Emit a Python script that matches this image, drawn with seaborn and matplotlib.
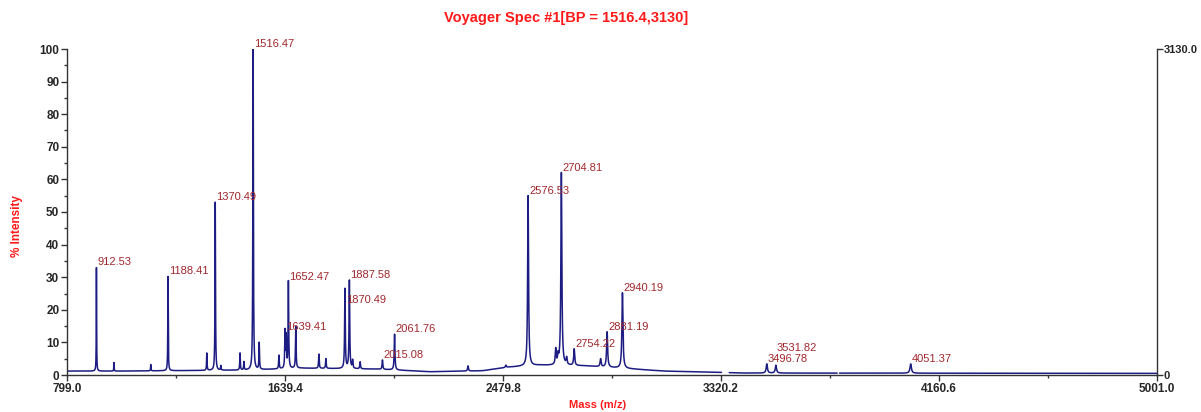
import numpy as np
import pandas as pd
import matplotlib
matplotlib.use("Agg")
import matplotlib.pyplot as plt
import seaborn as sns

# config
sns.set_style("ticks")
plt.rcParams['font.family'] = ['Liberation Sans Narrow', 'Liberation Sans', 'DejaVu Sans']

# labelled peaks : m/z and % intensity
peak_masses = [912.53, 1188.41, 1370.49, 1516.47, 1639.41, 1652.47, 1870.49, 1887.58,
               2015.08, 2061.76, 2576.53, 2704.81, 2754.22, 2881.19, 2940.19,
               3496.78, 3531.82, 4051.37]
peak_heights = [33.0, 30.5, 53.0, 100.0, 13.3, 28.6, 26.4, 29.0,
                4.6, 12.5, 55.0, 62.0, 7.9, 13.2, 25.2,
                3.4, 3.0, 3.4]

# small peaks without label
minor_masses = [980, 1122, 1338, 1392, 1466, 1481, 1540, 1616, 1644, 1681, 1770, 1797,
                1900, 1929, 2345, 2491, 2683, 2692, 2725, 2856]
minor_heights = [3.8, 3.2, 6.7, 2.8, 6.7, 4.0, 9.8, 6.0, 11.5, 14.8, 6.4, 5.0,
                 4.4, 4.0, 2.8, 3.0, 7.7, 5.5, 5.0, 4.9]

# baseline level along the mass range
base_masses = [799, 1000, 1500, 1700, 2000, 2200, 2400, 2500, 2620, 2800, 2950, 3100, 3320, 3400, 5001]
base_levels = [1.2, 1.2, 1.5, 2.1, 1.8, 1.0, 1.3, 2.4, 3.0, 2.8, 2.0, 1.2, 0.8, 0.6, 0.5]

# holes in the recorded trace
gap_starts = [3322, 3768]
gap_ends = [3352, 3777]

# fixed label moves (pixels) done by the acquisition software
label_shift = {1870.49: -16, 3531.82: 12}

x_min, x_max = 799.0, 5001.0
right_max = 3130.0


def build_trace():
    """profil du spectre : ligne de base + pics lorentziens"""
    mz = np.arange(x_min, x_max + 0.25, 0.25)
    base = np.interp(mz, base_masses, base_levels)
    y = base.copy()
    for m, h in zip(peak_masses + minor_masses, peak_heights + minor_heights):
        amp = h - np.interp(m, base_masses, base_levels)
        gamma = 0.0008 * m
        y += amp / (1 + ((mz - m) / gamma) ** 2)
    seg = np.zeros(len(mz), dtype=int)
    keep = np.ones(len(mz), dtype=bool)
    for k, (a, b) in enumerate(zip(gap_starts, gap_ends)):
        keep &= ~((mz > a) & (mz < b))
        seg[mz >= b] = k + 1
    return pd.DataFrame({'mz': mz[keep], 'intensity': y[keep], 'seg': seg[keep]})


df = build_trace()

fig = plt.figure(figsize=(12.01, 4.12), dpi=100)
ax = fig.add_axes([67 / 1201, 1 - 375 / 412, 1090 / 1201, 326 / 412])

sns.lineplot(data=df, x='mz', y='intensity', units='seg', estimator=None,
             color='#1c1c82', linewidth=1.1, ax=ax)

ax.set_xlim(x_min, x_max)
ax.set_ylim(0, 100)
ax.set_xlabel('')
ax.set_ylabel('')

# ticks
xt = np.linspace(x_min, x_max, 6)
ax.set_xticks(xt)
ax.set_xticklabels([f'{v:.1f}' for v in xt])
ax.set_xticks((xt[:-1] + xt[1:]) / 2, minor=True)
ax.set_yticks(np.arange(0, 101, 10))
ax.set_yticks(np.arange(5, 100, 10), minor=True)
ax.tick_params(axis='both', which='major', direction='out', length=4, width=1,
               color='#333333', labelsize=8.5, pad=1.5)
ax.tick_params(axis='both', which='minor', direction='out', length=2.5, width=1, color='#333333')
for lab in ax.get_xticklabels() + ax.get_yticklabels():
    lab.set_fontweight('bold')

for s in ['left', 'bottom']:
    ax.spines[s].set_color('#333333')
    ax.spines[s].set_linewidth(1)
ax.spines['top'].set_visible(False)
ax.spines['right'].set_visible(False)

# axe de droite en coups
ax2 = ax.twinx()
ax2.set_ylim(0, right_max)
ax2.set_yticks([0, right_max])
ax2.set_yticklabels(['0', f'{right_max:.1f}'])
ax2.tick_params(axis='y', direction='out', length=4, width=1, color='#333333', labelsize=8, pad=1)
for lab in ax2.get_yticklabels():
    lab.set_fontweight('bold')
for s in ['left', 'bottom', 'top']:
    ax2.spines[s].set_visible(False)
ax2.spines['right'].set_color('#333333')
ax2.spines['right'].set_linewidth(1)

# peak labels
for m, h in zip(peak_masses, peak_heights):
    ax.annotate(f'{m:.2f}', xy=(m, h), xytext=(1, label_shift.get(m, 0)),
                textcoords='offset pixels', ha='left', va='bottom',
                color='#a0282d', fontsize=8, family=['Liberation Sans', 'DejaVu Sans'])

red = '#ff1a1a'
fig.text(566 / 1201, 1 - 18 / 412, 'Voyager Spec #1[BP = 1516.4,3130]', ha='center', va='center',
         color=red, fontweight='bold', fontsize=10.5, family=['Liberation Sans', 'DejaVu Sans'])
fig.text(17 / 1201, 1 - 226 / 412, '% Intensity', rotation=90, ha='center', va='center',
         color=red, fontweight='bold', fontsize=8.5, family=['Liberation Sans', 'DejaVu Sans'])
fig.text(598 / 1201, 1 - 405 / 412, 'Mass (m/z)', ha='center', va='center',
         color=red, fontweight='bold', fontsize=8, family=['Liberation Sans', 'DejaVu Sans'])

plt.savefig('out.png', dpi=100)
plt.close()
